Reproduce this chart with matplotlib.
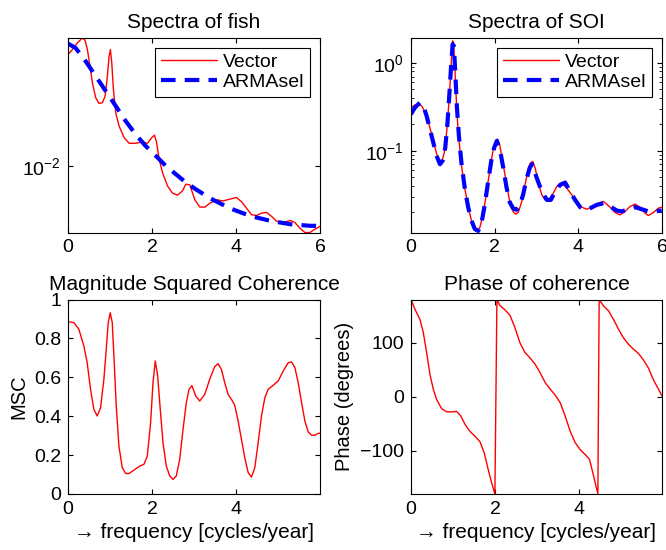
import numpy as np
import matplotlib
matplotlib.use("Agg")
import matplotlib.pyplot as plt
from matplotlib.ticker import NullLocator, FixedLocator, LogLocator

plt.rcParams['font.family'] = ['Liberation Sans', 'DejaVu Sans']
plt.rcParams['mathtext.fontset'] = 'custom'
plt.rcParams['mathtext.rm'] = 'Liberation Sans'
plt.rcParams['mathtext.it'] = 'Liberation Sans'

# ---- Spectra of fish ----
fish_f_vec = [0, 0.104, 0.223, 0.343, 0.406, 0.462, 0.517, 0.581, 0.660, 0.740,
              0.819, 0.883, 0.930, 0.978, 1.010, 1.042, 1.081, 1.137, 1.217, 1.336,
              1.455, 1.614, 1.773, 1.892, 1.995, 2.059, 2.107, 2.170, 2.250, 2.369,
              2.488, 2.607, 2.726, 2.806, 2.90, 3.02, 3.14, 3.26, 3.38, 3.54,
              3.69, 3.85, 4.01, 4.13, 4.25, 4.37, 4.49, 4.61, 4.73, 4.85,
              4.97, 5.13, 5.29, 5.40, 5.52, 5.64, 5.76, 5.88, 6.00]
fish_vector = [0.0560, 0.0605, 0.0671, 0.0724, 0.0700, 0.0605, 0.0480, 0.0362, 0.0287, 0.0263,
               0.0266, 0.0294, 0.0381, 0.0546, 0.0605, 0.0493, 0.0327, 0.0227, 0.0185, 0.0155,
               0.0142, 0.0142, 0.0145, 0.0142, 0.0155, 0.0161, 0.0145, 0.0111, 0.00902, 0.00734,
               0.00656, 0.00636, 0.00680, 0.00754, 0.00746, 0.00592, 0.00529, 0.00529, 0.00562, 0.00592,
               0.00582, 0.00598, 0.00613, 0.00576, 0.00520, 0.00470, 0.00465, 0.00482, 0.00487, 0.00457,
               0.00424, 0.00417, 0.00430, 0.00417, 0.00382, 0.00357, 0.00357, 0.00376, 0.00392]
fish_f_arma = [0, 0.18, 0.42, 0.66, 0.90, 1.14, 1.375, 1.61, 1.85, 2.09, 2.33, 2.57, 2.81,
               3.04, 3.38, 3.85, 4.33, 4.81, 5.29, 5.76, 6.0]
fish_armasel = [0.0664, 0.0621, 0.0506, 0.0401, 0.0318, 0.0252, 0.0200, 0.0163, 0.0136,
                0.0117, 0.0100, 0.00879, 0.00773, 0.00698, 0.00607, 0.00520, 0.00462,
                0.00428, 0.00406, 0.00396, 0.00396]

# ---- Spectra of SOI ----
soi_f_vec = [0, 0.095, 0.174, 0.254, 0.334, 0.413, 0.493, 0.573, 0.652, 0.692,
             0.732, 0.795, 0.851, 0.907, 0.954, 0.994, 1.018, 1.050, 1.090, 1.129,
             1.209, 1.289, 1.368, 1.448, 1.527, 1.583, 1.647, 1.726, 1.806, 1.886,
             1.965, 2.021, 2.069, 2.125, 2.204, 2.284, 2.363, 2.443, 2.499, 2.562,
             2.642, 2.721, 2.801, 2.849, 2.912, 2.968, 3.048, 3.127, 3.207, 3.286,
             3.366, 3.485, 3.605, 3.724, 3.844, 3.963, 4.083, 4.202, 4.321, 4.440,
             4.600, 4.759, 4.878, 4.998, 5.117, 5.236, 5.356, 5.475, 5.595, 5.674,
             5.793, 5.913, 6.0]
soi_vector = [0.311, 0.333, 0.339, 0.325, 0.277, 0.214, 0.155, 0.109, 0.0790, 0.0705,
              0.0736, 0.0958, 0.162, 0.354, 0.847, 1.78, 1.70, 0.847, 0.325, 0.162,
              0.0676, 0.0367, 0.0227, 0.0160, 0.0129, 0.0123, 0.0135, 0.0191, 0.0336, 0.0619,
              0.104, 0.130, 0.136, 0.114, 0.0705, 0.0418, 0.0259, 0.0203, 0.0191, 0.0199,
              0.0259, 0.0400, 0.0619, 0.0724, 0.0757, 0.0635, 0.0429, 0.0316, 0.0277, 0.0277,
              0.0308, 0.0393, 0.0429, 0.0377, 0.0316, 0.0266, 0.0229, 0.0217, 0.0229, 0.0250,
              0.0266, 0.0229, 0.0199, 0.0187, 0.0205, 0.0233, 0.0248, 0.0229, 0.0196, 0.0184,
              0.0199, 0.0223, 0.0229]
soi_f_arma = [0, 0.095, 0.214, 0.294, 0.373, 0.453, 0.533, 0.612, 0.692, 0.755,
              0.819, 0.867, 0.915, 0.954, 0.994, 1.026, 1.058, 1.098, 1.145, 1.209,
              1.289, 1.368, 1.448, 1.527, 1.607, 1.687, 1.766, 1.846, 1.925, 1.989,
              2.053, 2.125, 2.204, 2.284, 2.363, 2.443, 2.522, 2.602, 2.682, 2.761,
              2.841, 2.896, 3.008, 3.127, 3.247, 3.342, 3.446, 3.565, 3.684, 3.804,
              3.923, 4.043, 4.162, 4.282, 4.440, 4.600, 4.759, 4.918, 5.038, 5.197,
              5.356, 5.515, 5.674, 5.833, 5.992]
soi_armasel = [0.261, 0.311, 0.354, 0.325, 0.250, 0.176, 0.124, 0.0878, 0.0705, 0.0770,
               0.109, 0.192, 0.422, 0.847, 1.63, 1.56, 0.776, 0.311, 0.148, 0.0705,
               0.0367, 0.0227, 0.0160, 0.0129, 0.0123, 0.0153, 0.0248, 0.0456, 0.0804, 0.109,
               0.130, 0.104, 0.0647, 0.0383, 0.0259, 0.0221, 0.0214, 0.0237, 0.0322, 0.0476,
               0.0647, 0.0705, 0.0489, 0.0345, 0.0277, 0.0277, 0.0345, 0.0411, 0.0436, 0.0345,
               0.0277, 0.0229, 0.0214, 0.0223, 0.0243, 0.0254, 0.0233, 0.0210, 0.0205, 0.0217,
               0.0229, 0.0217, 0.0205, 0.0205, 0.0210]

# ---- Magnitude squared coherence ----
msc_f = [0, 0.139, 0.258, 0.377, 0.456, 0.536, 0.615, 0.694, 0.774, 0.853,
         0.909, 0.956, 1.004, 1.052, 1.099, 1.147, 1.210, 1.290, 1.369, 1.448,
         1.567, 1.687, 1.806, 1.885, 1.964, 2.020, 2.075, 2.131, 2.187, 2.258,
         2.337, 2.417, 2.496, 2.575, 2.655, 2.734, 2.813, 2.877, 2.945, 3.036,
         3.131, 3.25, 3.369, 3.488, 3.567, 3.647, 3.726, 3.806, 3.885, 3.964,
         4.044, 4.123, 4.202, 4.282, 4.361, 4.440, 4.520, 4.599, 4.679, 4.758,
         4.877, 4.996, 5.115, 5.234, 5.313, 5.393, 5.472, 5.552, 5.631, 5.710,
         5.790, 5.869, 5.948, 5.99]
msc = [0.886, 0.881, 0.847, 0.761, 0.675, 0.538, 0.435, 0.401, 0.444, 0.590,
       0.744, 0.881, 0.932, 0.881, 0.675, 0.452, 0.247, 0.135, 0.106, 0.105,
       0.123, 0.141, 0.153, 0.195, 0.367, 0.572, 0.684, 0.607, 0.452, 0.264,
       0.144, 0.093, 0.075, 0.093, 0.178, 0.332, 0.470, 0.538, 0.557, 0.504,
       0.478, 0.512, 0.590, 0.655, 0.670, 0.641, 0.572, 0.512, 0.487, 0.456,
       0.375, 0.281, 0.187, 0.110, 0.087, 0.135, 0.264, 0.401, 0.495, 0.538,
       0.559, 0.581, 0.632, 0.675, 0.679, 0.650, 0.572, 0.470, 0.375, 0.319,
       0.302, 0.302, 0.312, 0.312]

# ---- Phase of coherence ----
phase_f = [0, 0.094, 0.214, 0.293, 0.372, 0.452, 0.531, 0.610, 0.729, 0.848,
           0.967, 1.086, 1.190, 1.285, 1.404, 1.523, 1.642, 1.745, 1.840, 1.920,
           1.999, 2.047, 2.118, 2.237, 2.357, 2.476, 2.595, 2.714, 2.833, 2.960,
           3.079, 3.198, 3.317, 3.436, 3.555, 3.674, 3.793, 3.912, 4.031, 4.150,
           4.253, 4.333, 4.396, 4.452, 4.483, 4.587, 4.706, 4.825, 4.944, 5.063,
           5.182, 5.301, 5.420, 5.539, 5.658, 5.777, 5.896, 5.983]
phase = [180, 162, 143, 119, 82, 41, 14, -5, -22, -28,
         -28, -27, -36, -51, -64, -73, -83, -104, -135, -159,
         -180, 180, 169, 161, 151, 128, 100, 82, 72, 60,
         44, 26, 14, 3, -11, -36, -64, -85, -98, -107,
         -116, -141, -162, -180, 180, 168, 159, 143, 125, 109,
         97, 88, 80, 68, 53, 31, 14, 1]

red = (1, 0, 0)
blue = (0, 0, 1)
FS = 14

fig = plt.figure(figsize=(6.66, 5.5), dpi=100)
W, H = 666, 550

def add_ax(l, t, r, b):
    return fig.add_axes([l / W, 1 - b / H, (r - l) / W, (b - t) / H])

def style(ax):
    ax.tick_params(which='major', direction='in', top=True, right=True, labelsize=FS,
                   length=3.5, width=0.8, pad=5)
    ax.tick_params(which='minor', direction='in', top=True, right=True, length=2, width=0.6)
    for s in ax.spines.values():
        s.set_linewidth(0.8)

def legend(ax):
    leg = ax.legend(loc='upper right', fontsize=FS, frameon=True, fancybox=False,
                    framealpha=1, edgecolor='black', handlelength=2.9, borderpad=0.3,
                    labelspacing=0.1, handletextpad=0.3, borderaxespad=0.5)
    leg.get_frame().set_linewidth(0.8)

line_kw = dict(solid_joinstyle='round', solid_capstyle='round')
dash = (0, (3.5, 2.2))

ax1 = add_ax(68, 38, 320, 232.5)
ax1.plot(fish_f_vec, fish_vector, color=red, lw=1.0, label='Vector', **line_kw)
ax1.plot(fish_f_arma, fish_armasel, color=blue, lw=3.0, ls=dash, label='ARMAsel')
ax1.set_yscale('log')
ax1.set_xlim(0, 6)
ax1.set_ylim(0.00357, 0.0724)
ax1.set_xticks([0, 2, 4, 6])
ax1.yaxis.set_major_locator(FixedLocator([0.01]))
ax1.yaxis.set_minor_locator(NullLocator())
ax1.set_title('Spectra of fish', fontsize=15, pad=7)
style(ax1)
legend(ax1)

ax2 = add_ax(411, 38, 662, 232.5)
ax2.plot(soi_f_vec, soi_vector, color=red, lw=1.0, label='Vector', **line_kw)
ax2.plot(soi_f_arma, soi_armasel, color=blue, lw=3.0, ls=dash, label='ARMAsel')
ax2.set_yscale('log')
ax2.set_xlim(0, 6)
ax2.set_ylim(0.0118, 1.92)
ax2.set_xticks([0, 2, 4, 6])
ax2.yaxis.set_major_locator(FixedLocator([0.1, 1.0]))
ax2.yaxis.set_minor_locator(LogLocator(base=10, subs=np.arange(2, 10)))
ax2.yaxis.set_minor_formatter(matplotlib.ticker.NullFormatter())
ax2.set_title('Spectra of SOI', fontsize=15, pad=7)
style(ax2)
legend(ax2)

ax3 = add_ax(68, 299.5, 320, 494)
ax3.plot(msc_f, msc, color=red, lw=1.0, **line_kw)
ax3.set_xlim(0, 5.99)
ax3.set_ylim(0, 1)
ax3.set_xticks([0, 2, 4])
ax3.set_yticks([0, 0.2, 0.4, 0.6, 0.8, 1])
ax3.set_yticklabels(['0', '0.2', '0.4', '0.6', '0.8', '1'])
ax3.set_title('Magnitude Squared Coherence', fontsize=15, pad=7)
ax3.set_ylabel('MSC', fontsize=14.5)
ax3.set_xlabel('\u2192 frequency [cycles/year]', fontsize=15)
style(ax3)

ax4 = add_ax(411, 299.5, 662, 494)
ax4.plot(phase_f, phase, color=red, lw=1.0, **line_kw)
ax4.set_xlim(0, 5.98)
ax4.set_ylim(-180, 180)
ax4.set_xticks([0, 2, 4])
ax4.set_yticks([-100, 0, 100])
ax4.set_title('Phase of coherence', fontsize=15, pad=7)
ax4.set_ylabel('Phase (degrees)', fontsize=14.5)
ax4.set_xlabel('\u2192 frequency [cycles/year]', fontsize=15)
style(ax4)

fig.savefig('out.png', dpi=100)
